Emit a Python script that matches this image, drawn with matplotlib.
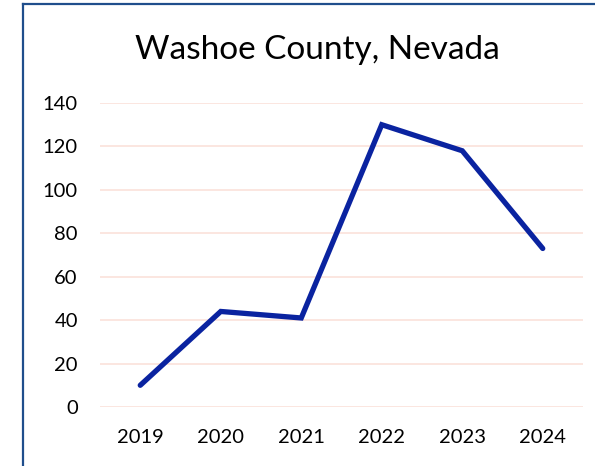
import matplotlib
matplotlib.use("Agg")
import matplotlib.pyplot as plt
from matplotlib.lines import Line2D

# Data
years = ['2019', '2020', '2021', '2022', '2023', '2024']
values = [10, 44, 41, 130, 118, 73]
y_ticks = [0, 20, 40, 60, 80, 100, 120, 140]

W, H = 595, 466
fig = plt.figure(figsize=(W / 100, H / 100), dpi=100)
plt.rcParams['font.family'] = ['Lato', 'DejaVu Sans']

ax = fig.add_axes([100 / W, 1 - 407 / H, 483 / W, 304 / H])
x = list(range(len(years)))
ax.plot(x, values, color='#0A23A0', linewidth=3.8, solid_capstyle='round',
        solid_joinstyle='miter', clip_on=False, zorder=3)

ax.set_xlim(-0.5, len(years) - 0.5)
ax.set_ylim(0, 140)
ax.set_yticks(y_ticks)
ax.set_xticks(x)
ax.set_xticklabels(years)
ax.tick_params(axis='both', length=0, labelsize=14.5, colors='black')
ax.tick_params(axis='x', pad=16)
ax.tick_params(axis='y', pad=16)
ax.grid(axis='y', color='#FBE2DA', linewidth=1.2)
ax.set_axisbelow(True)
for s in ax.spines.values():
    s.set_visible(False)

fig.text(317 / W, 1 - 50 / H, 'Washoe County, Nevada', ha='center', va='center',
         fontsize=24, color='black')

# Border (left and top edges)
fig.add_artist(Line2D([23 / W, 23 / W], [0, 1 - 4 / H], transform=fig.transFigure,
                      color='#1F4E8C', linewidth=1.6))
fig.add_artist(Line2D([23 / W, 1], [1 - 4 / H, 1 - 4 / H], transform=fig.transFigure,
                      color='#1F4E8C', linewidth=1.6))

fig.savefig('out.png', dpi=100)
